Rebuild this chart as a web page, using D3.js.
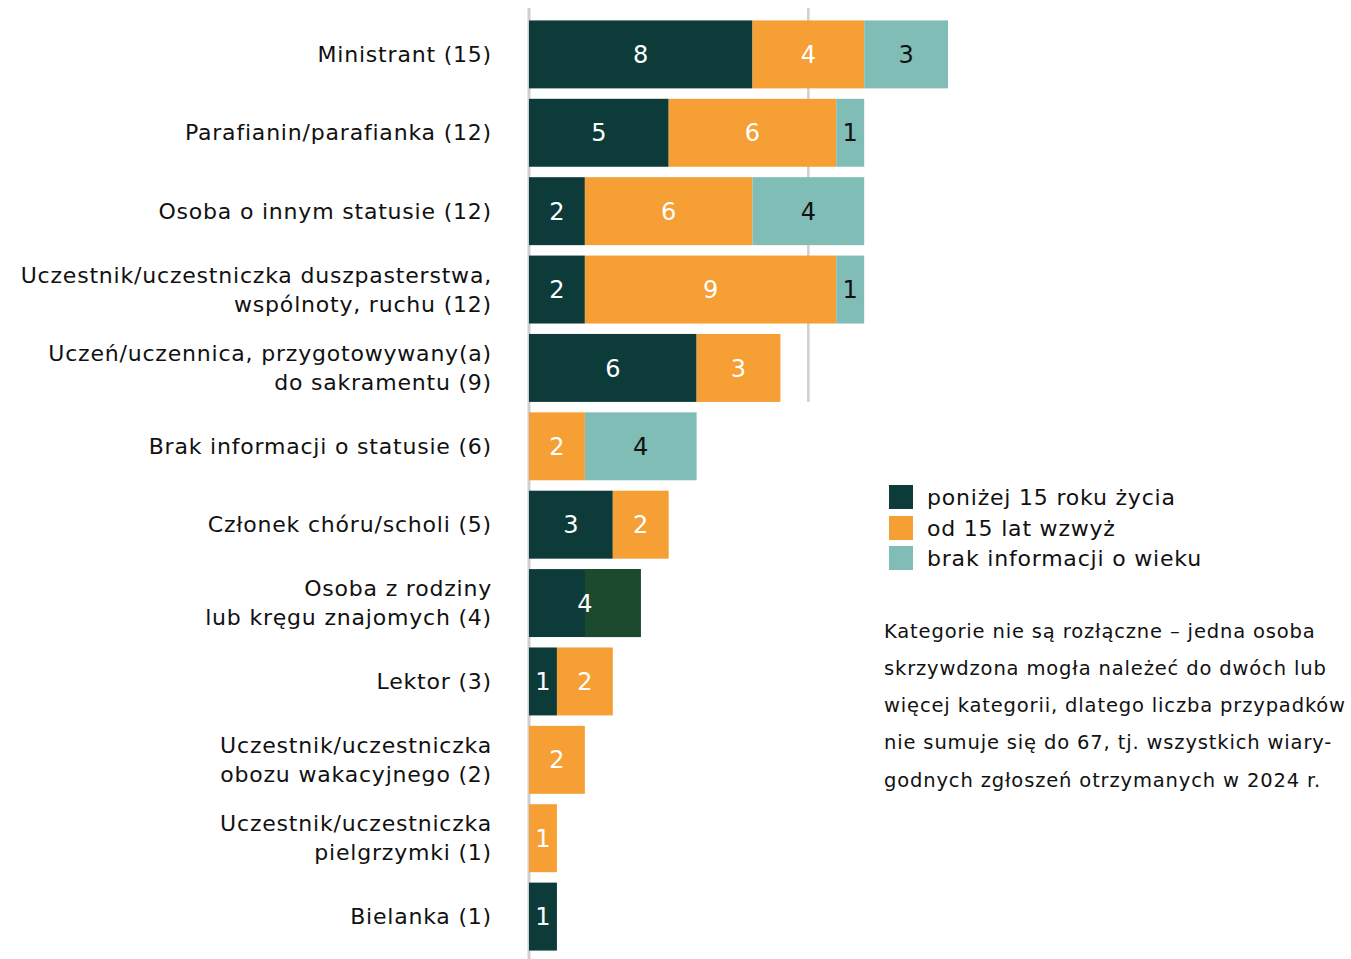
<!DOCTYPE html>
<html>
<head>
<meta charset="utf-8">
<script src="https://cdn.jsdelivr.net/npm/d3@7"></script>
<style>
  body { margin: 0; background: #fff; }
  svg { display: block; font-family: "DejaVu Sans", sans-serif; }
</style>
</head>
<body>
<div id="chart"></div>
<script>
// --- data ---
const categories = [
  ["Ministrant (15)"],
  ["Parafianin/parafianka (12)"],
  ["Osoba o innym statusie (12)"],
  ["Uczestnik/uczestniczka duszpasterstwa,", "wspólnoty, ruchu (12)"],
  ["Uczeń/uczennica, przygotowywany(a)", "do sakramentu (9)"],
  ["Brak informacji o statusie (6)"],
  ["Członek chóru/scholi (5)"],
  ["Osoba z rodziny", "lub kręgu znajomych (4)"],
  ["Lektor (3)"],
  ["Uczestnik/uczestniczka", "obozu wakacyjnego (2)"],
  ["Uczestnik/uczestniczka", "pielgrzymki (1)"],
  ["Bielanka (1)"]
];
const under15 = [8, 5, 2, 2, 6, 0, 3, 4, 1, 0, 0, 1];
const over15  = [4, 6, 6, 9, 3, 2, 2, 0, 2, 2, 1, 0];
const noAge   = [3, 1, 4, 1, 0, 4, 0, 0, 0, 0, 0, 0];
// second shade seen on part of one bar (row index, from, to)
const altShade = [{ row: 7, from: 2, to: 4 }];

const seriesNames = ["poniżej 15 roku życia", "od 15 lat wzwyż", "brak informacji o wieku"];
const seriesColors = ["#0d3b3a", "#f59f35", "#80bdb6"];
const labelColors = ["#fff", "#fff", "#111"];
const gridTicks = [10];

const note = [
  "Kategorie nie są rozłączne – jedna osoba",
  "skrzywdzona mogła należeć do dwóch lub",
  "więcej kategorii, dlatego liczba przypadków",
  "nie sumuje się do 67, tj. wszystkich wiary-",
  "godnych zgłoszeń otrzymanych w 2024 r."
];

// --- setup ---
const width = 1351, height = 959;
const svg = d3.select("#chart").append("svg")
  .attr("width", width).attr("height", height);

const rows = categories.map((c, i) => ({ i, label: c, vals: [under15[i], over15[i], noAge[i]] }));

const x = d3.scaleLinear().domain([0, 15]).range([529, 948]);
const y = d3.scaleBand().domain(d3.range(categories.length)).range([10, 961]).padding(0.133);

// gridline at 10 (drawn only across the top rows, as in the original)
svg.append("g").selectAll("line").data(gridTicks).join("line")
  .attr("x1", d => x(d)).attr("x2", d => x(d))
  .attr("y1", 8).attr("y2", y(4) + y.bandwidth())
  .attr("stroke", "#cfcfcf").attr("stroke-width", 2.5);

// baseline
svg.append("line")
  .attr("x1", x(0)).attr("x2", x(0))
  .attr("y1", 8).attr("y2", height)
  .attr("stroke", "#cfcfcf").attr("stroke-width", 3);

// stacked segments
const segs = [];
rows.forEach(r => {
  let acc = 0;
  r.vals.forEach((v, s) => {
    if (v > 0) segs.push({ row: r.i, s, v, x0: acc, x1: acc + v });
    acc += v;
  });
});

svg.append("g").selectAll("rect").data(segs).join("rect")
  .attr("x", d => x(d.x0))
  .attr("y", d => y(d.row))
  .attr("width", d => x(d.x1) - x(d.x0))
  .attr("height", y.bandwidth())
  .attr("fill", d => seriesColors[d.s]);

svg.append("g").selectAll("rect").data(altShade).join("rect")
  .attr("x", d => x(d.from))
  .attr("y", d => y(d.row))
  .attr("width", d => x(d.to) - x(d.from))
  .attr("height", y.bandwidth())
  .attr("fill", "#1c4a2e");

svg.append("g").selectAll("text").data(segs).join("text")
  .attr("x", d => (x(d.x0) + x(d.x1)) / 2)
  .attr("y", d => y(d.row) + y.bandwidth() / 2)
  .attr("dy", "0.36em")
  .attr("text-anchor", "middle")
  .attr("font-size", 24)
  .attr("fill", d => labelColors[d.s])
  .text(d => d.v);

// category labels
const lab = svg.append("g").selectAll("text").data(rows).join("text")
  .attr("text-anchor", "end")
  .attr("font-size", 22)
  .attr("letter-spacing", 0.8)
  .attr("fill", "#111")
  .attr("transform", d => `translate(492,${y(d.i) + y.bandwidth() / 2})`);
lab.selectAll("tspan").data(d => d.label.map((t, k) => ({ t, k, n: d.label.length })))
  .join("tspan")
  .attr("x", 0)
  .attr("y", d => (d.k - (d.n - 1) / 2) * 29)
  .attr("dy", "0.35em")
  .text(d => d.t);

// legend
const leg = svg.append("g").selectAll("g").data(seriesNames).join("g")
  .attr("transform", (d, i) => `translate(889,${[485, 516, 546][i]})`);
leg.append("rect").attr("width", 24).attr("height", 24).attr("fill", (d, i) => seriesColors[i]);
leg.append("text").attr("x", 38).attr("y", 12).attr("dy", "0.35em")
  .attr("font-size", 22).attr("letter-spacing", 0.8)
  .attr("fill", "#111").text(d => d);

// note
svg.append("g").selectAll("text").data(note).join("text")
  .attr("x", 884).attr("y", (d, i) => 631 + i * 37.2).attr("dy", "0.35em")
  .attr("font-size", 19.5).attr("letter-spacing", 0.85)
  .attr("fill", "#111").text(d => d);
</script>
</body>
</html>
